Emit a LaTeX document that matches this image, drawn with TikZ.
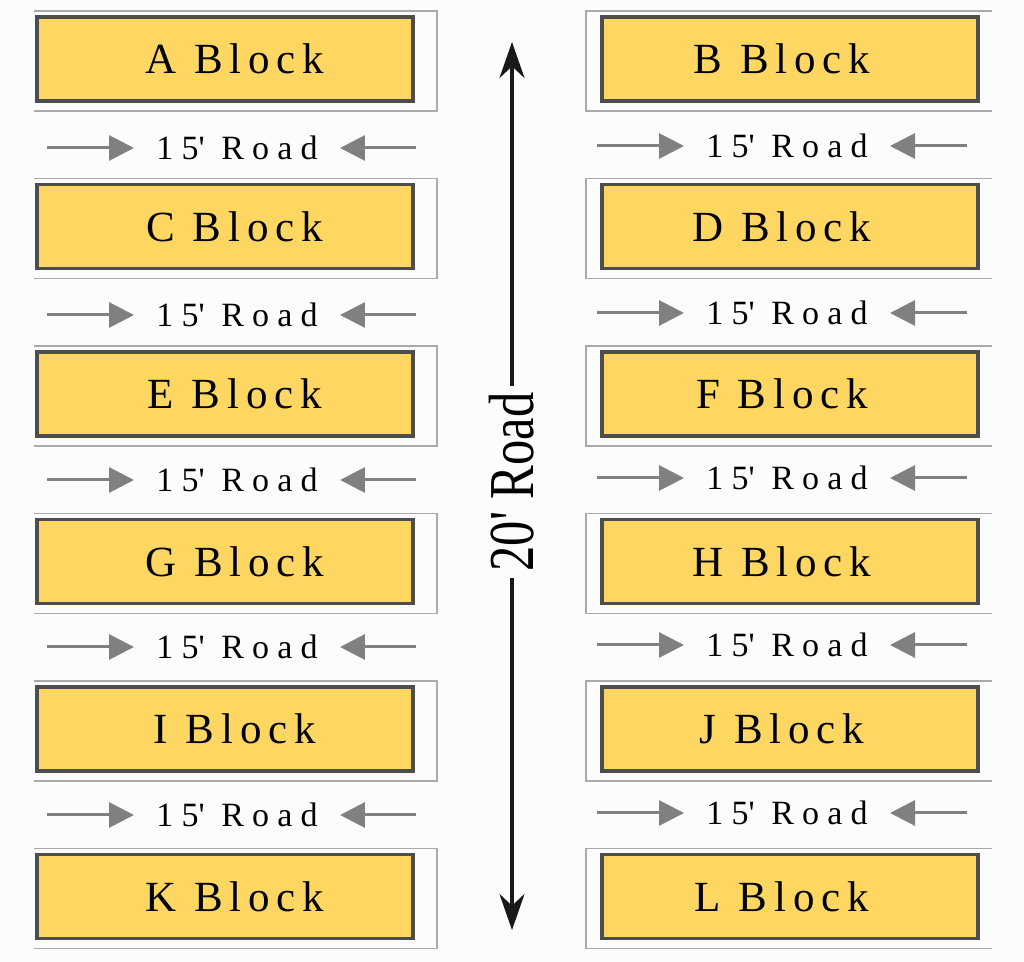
\documentclass[tikz,border=0pt]{standalone}
\usepackage{fontspec}
\setmainfont{Liberation Serif}
\newfontfamily\blockfont{Liberation Serif}[LetterSpace=16]
\newfontfamily\roadfont{Liberation Serif}[LetterSpace=24]
\usetikzlibrary{arrows.meta}
\definecolor{paper}{RGB}{252,252,252}
\definecolor{blockyellow}{RGB}{253,215,98}
\definecolor{blockedge}{RGB}{77,77,77}
\definecolor{roadgrey}{RGB}{128,128,128}
\definecolor{plotline}{RGB}{170,170,170}
\tikzset{
  plotline/.style={draw=plotline, line width=0.6pt},
  blockbox/.style={draw=blockedge, fill=blockyellow, line width=1.75pt,
    minimum width=188pt, minimum height=42pt, inner sep=0pt},
  blocktext/.style={font=\blockfont\fontsize{21.5}{24}\selectfont, inner sep=0pt},
  roadlabel/.style={font=\roadfont\fontsize{17}{20}\selectfont,
    inner xsep=11pt, inner ysep=0pt},
  roadarrow/.style={draw=roadgrey, line width=1.5pt,
    -{Triangle[length=12.5pt,width=12.5pt]}},
  mainroad/.style={draw=black!90, line width=2pt,
    -{Stealth[length=18pt,width=12.5pt]}}
}

\begin{document}
\begin{tikzpicture}[x=0.5pt,y=-0.5pt]
        \fill[paper] (0,0) rectangle (1024,962);
        \useasboundingbox (0,0) rectangle (1024,962);
        % plot outlines
        \foreach \i [evaluate=\i as \y using 59+167.5*\i] in {0,...,5} {
            \draw[plotline] (34,\y-48) -- (437,\y-48) -- (437,\y+52) -- (34,\y+52);
            \draw[plotline] (992,\y-48) -- (586,\y-48) -- (586,\y+52) -- (992,\y+52);
        }
        % blocks
        \foreach \l/\r [count=\i from 0] in {A/B,C/D,E/F,G/H,I/J,K/L} {
            \node[blockbox, label={[blocktext,xshift=5pt]center:\l\ Block}] (\l) at (225,59+167.5*\i) {};
            \node[blockbox, label={[blocktext,xshift=-4pt]center:\r\ Block}] (\r) at (790,59+167.5*\i) {};
        }
        % 15' roads
        \foreach \y [count=\i] in {148,315,480,647,815} {
            \node[roadlabel] (roadL\i) at (237,\y) {15\textquotesingle\ Road};
            \coordinate (roadLa\i) at (47,\y);
            \coordinate (roadLb\i) at (416,\y);
            \draw[roadarrow] (roadLa\i) -- (roadL\i.west);
            \draw[roadarrow] (roadLb\i) -- (roadL\i.east);
            \node[roadlabel] (roadR\i) at (787,\y-2) {15\textquotesingle\ Road};
            \coordinate (roadRa\i) at (597,\y-2);
            \coordinate (roadRb\i) at (967,\y-2);
            \draw[roadarrow] (roadRa\i) -- (roadR\i.west);
            \draw[roadarrow] (roadRb\i) -- (roadR\i.east);
        }
        % 20' road
        \coordinate (north) at (512,42);
        \coordinate (south) at (512,930);
        \node[rotate=90, inner sep=3pt, font=\fontsize{32}{36}\selectfont] (mainroad) at (512,482)
            {\scalebox{0.79}[1]{20\textquotesingle\ Road}};
        \draw[mainroad] (mainroad) -- (north);
        \draw[mainroad] (mainroad) -- (south);
    \end{tikzpicture}
\end{document}
